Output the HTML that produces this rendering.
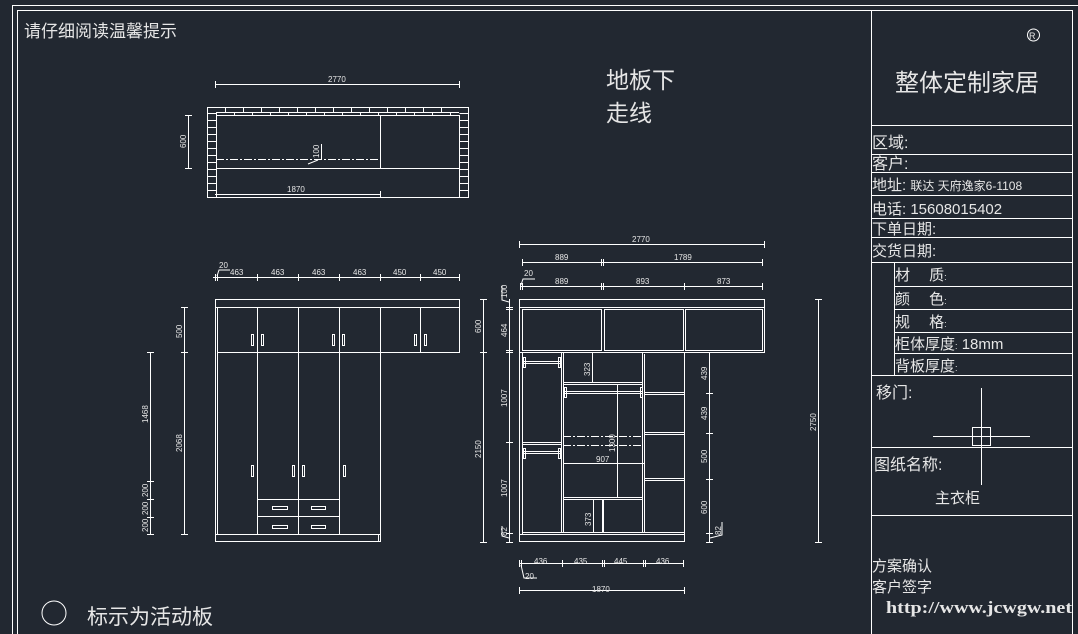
<!DOCTYPE html>
<html><head><meta charset="utf-8"><style>
html,body{margin:0;padding:0;background:#222831;}
svg{display:block}
text{font-family:"Liberation Sans","Noto Sans CJK SC",sans-serif;fill:#e6e6e6}
.d{font-size:8px;font-family:"Liberation Mono",monospace}
</style></head><body>
<svg width="1078" height="634" viewBox="0 0 1078 634" xmlns="http://www.w3.org/2000/svg">
<defs>
<pattern id="bh" x="207" y="113" width="10" height="7" patternUnits="userSpaceOnUse"><line x1="0" y1="0.5" x2="10" y2="0.5" stroke="#fff" stroke-width="1"/></pattern>
<pattern id="bt" x="207" y="107" width="18" height="8" patternUnits="userSpaceOnUse"><line x1="0.5" y1="0" x2="0.5" y2="5" stroke="#fff"/><line x1="9.5" y1="5" x2="9.5" y2="8" stroke="#fff"/></pattern>
</defs>
<rect width="1078" height="634" fill="#222831"/>
<g fill="none" stroke="#fff" stroke-width="1">
<rect x="12.5" y="5.5" width="1070" height="640"/>
<rect x="17.5" y="10.5" width="1055" height="640"/>
<line x1="871.5" y1="10" x2="871.5" y2="634"/>
<line x1="871" y1="125.5" x2="1073" y2="125.5"/>
<line x1="871" y1="154.5" x2="1073" y2="154.5"/>
<line x1="871" y1="172.5" x2="1073" y2="172.5"/>
<line x1="871" y1="195.5" x2="1073" y2="195.5"/>
<line x1="871" y1="218.5" x2="1073" y2="218.5"/>
<line x1="871" y1="237.5" x2="1073" y2="237.5"/>
<line x1="871" y1="262.5" x2="1073" y2="262.5"/>
<line x1="894.5" y1="262" x2="894.5" y2="375"/>
<line x1="894" y1="286.5" x2="1073" y2="286.5"/>
<line x1="894" y1="309.5" x2="1073" y2="309.5"/>
<line x1="894" y1="332.5" x2="1073" y2="332.5"/>
<line x1="894" y1="353.5" x2="1073" y2="353.5"/>
<line x1="871" y1="375.5" x2="1073" y2="375.5"/>
<line x1="871" y1="447.5" x2="1073" y2="447.5"/>
<line x1="871" y1="515.5" x2="1073" y2="515.5"/>
<line x1="981.5" y1="388" x2="981.5" y2="485"/>
<line x1="933" y1="436.5" x2="1030" y2="436.5"/>
<rect x="972.5" y="427.5" width="18" height="18"/>
<circle cx="1033.5" cy="35" r="6"/>

<rect x="207.5" y="107.5" width="261" height="90"/>
<rect x="216.5" y="115.5" width="243" height="53"/>
<line x1="216" y1="112.5" x2="459" y2="112.5"/>
<line x1="216.5" y1="168" x2="216.5" y2="198"/>
<line x1="459.5" y1="168" x2="459.5" y2="198"/>
<line x1="380.5" y1="115" x2="380.5" y2="168"/>
<line x1="216" y1="159.5" x2="380" y2="159.5" stroke-dasharray="8,2,2,2"/>
<line x1="321.5" y1="144" x2="321.5" y2="160"/>
<line x1="308" y1="164" x2="318" y2="160"/>
<line x1="215.5" y1="84.5" x2="460" y2="84.5"/>
<line x1="215.5" y1="81" x2="215.5" y2="88"/><line x1="459.5" y1="81" x2="459.5" y2="88"/>
<line x1="188.5" y1="115" x2="188.5" y2="168"/>
<line x1="185" y1="115.5" x2="192" y2="115.5"/><line x1="185" y1="168.5" x2="192" y2="168.5"/>
<line x1="215" y1="194.5" x2="380" y2="194.5"/>
<line x1="380.5" y1="191" x2="380.5" y2="198"/>
</g>
<rect x="207.5" y="113" width="9" height="85" fill="url(#bh)"/>
<rect x="459.5" y="113" width="9" height="85" fill="url(#bh)"/>
<rect x="216" y="107" width="243" height="8" fill="url(#bt)"/>

<g fill="none" stroke="#fff" stroke-width="1">
<rect x="215.5" y="299.5" width="244" height="8"/>
<rect x="217.5" y="307.5" width="242" height="45"/>
<line x1="257.5" y1="307" x2="257.5" y2="534"/>
<line x1="298.5" y1="307" x2="298.5" y2="534"/>
<line x1="339.5" y1="307" x2="339.5" y2="534"/>
<line x1="380.5" y1="307" x2="380.5" y2="541"/>
<line x1="420.5" y1="307" x2="420.5" y2="352"/>
<line x1="215.5" y1="307" x2="215.5" y2="541"/>
<line x1="217.5" y1="352" x2="217.5" y2="534"/>
<rect x="215.5" y="534.5" width="165" height="7"/>
<line x1="378.5" y1="534" x2="378.5" y2="541"/>
<line x1="257" y1="499.5" x2="339" y2="499.5"/>
<line x1="257" y1="516.5" x2="339" y2="516.5"/>
<rect x="251.5" y="334.5" width="2" height="11"/><rect x="261.5" y="334.5" width="2" height="11"/>
<rect x="332.5" y="334.5" width="2" height="11"/><rect x="342.5" y="334.5" width="2" height="11"/>
<rect x="414.5" y="334.5" width="2" height="11"/><rect x="424.5" y="334.5" width="2" height="11"/>
<rect x="251.5" y="465.5" width="2" height="11"/><rect x="292.5" y="465.5" width="2" height="11"/>
<rect x="302.5" y="465.5" width="2" height="11"/><rect x="343.5" y="465.5" width="2" height="11"/>
<rect x="272.5" y="506.5" width="15" height="3"/><rect x="311.5" y="506.5" width="14" height="3"/>
<rect x="272.5" y="525.5" width="15" height="3"/><rect x="311.5" y="525.5" width="14" height="3"/>
<line x1="213" y1="277.5" x2="460" y2="277.5"/>
<line x1="215.5" y1="274" x2="215.5" y2="281"/><line x1="217.5" y1="274" x2="217.5" y2="281"/><line x1="257.5" y1="274" x2="257.5" y2="281"/><line x1="298.5" y1="274" x2="298.5" y2="281"/><line x1="339.5" y1="274" x2="339.5" y2="281"/><line x1="380.5" y1="274" x2="380.5" y2="281"/><line x1="420.5" y1="274" x2="420.5" y2="281"/><line x1="459.5" y1="274" x2="459.5" y2="281"/>
<polyline points="217,276 219,270 230,270"/>
<line x1="184.5" y1="307" x2="184.5" y2="534"/>
<line x1="181" y1="307.5" x2="188" y2="307.5"/><line x1="181" y1="352.5" x2="188" y2="352.5"/><line x1="181" y1="534.5" x2="188" y2="534.5"/>
<line x1="150.5" y1="352" x2="150.5" y2="534"/>
<line x1="147" y1="352.5" x2="154" y2="352.5"/><line x1="147" y1="481.5" x2="154" y2="481.5"/><line x1="147" y1="499.5" x2="154" y2="499.5"/><line x1="147" y1="517.5" x2="154" y2="517.5"/><line x1="147" y1="534.5" x2="154" y2="534.5"/>

<rect x="519.5" y="299.5" width="245" height="8"/>
<rect x="519.5" y="307.5" width="245" height="45"/>
<rect x="522.5" y="309.5" width="79" height="41"/>
<rect x="604.5" y="309.5" width="79" height="41"/>
<rect x="685.5" y="309.5" width="77" height="41"/>
<rect x="519.5" y="352.5" width="165" height="189"/>
<line x1="522.5" y1="352" x2="522.5" y2="534"/>
<line x1="519" y1="534.5" x2="684" y2="534.5"/><line x1="522" y1="532.5" x2="684" y2="532.5"/>
<line x1="561.5" y1="352" x2="561.5" y2="533"/><line x1="563.5" y1="352" x2="563.5" y2="533"/>
<line x1="642.5" y1="352" x2="642.5" y2="533"/><line x1="644.5" y1="354" x2="644.5" y2="533"/>
<line x1="522" y1="361.5" x2="561" y2="361.5"/><line x1="522" y1="363.5" x2="561" y2="363.5"/>
<rect x="523.5" y="357.5" width="2" height="10"/><rect x="558.5" y="357.5" width="2" height="10"/>
<line x1="522" y1="442.5" x2="561" y2="442.5"/><line x1="522" y1="444.5" x2="561" y2="444.5"/>
<line x1="522" y1="451.5" x2="561" y2="451.5"/><line x1="522" y1="453.5" x2="561" y2="453.5"/>
<rect x="523.5" y="448.5" width="2" height="10"/><rect x="558.5" y="448.5" width="2" height="10"/>
<line x1="592.5" y1="353" x2="592.5" y2="383"/>
<line x1="563" y1="382.5" x2="642" y2="382.5"/><line x1="563" y1="384.5" x2="642" y2="384.5"/>
<line x1="563" y1="391.5" x2="642" y2="391.5"/><line x1="563" y1="393.5" x2="642" y2="393.5"/>
<rect x="564.5" y="387.5" width="2" height="10"/><rect x="640.5" y="387.5" width="2" height="10"/>
<line x1="617.5" y1="384" x2="617.5" y2="498"/>
<line x1="563" y1="436.5" x2="642" y2="436.5" stroke-dasharray="8,2,2,2"/>
<line x1="563" y1="445.5" x2="642" y2="445.5" stroke-dasharray="8,2,2,2"/>
<line x1="563" y1="463.5" x2="644" y2="463.5"/>
<line x1="563" y1="497.5" x2="642" y2="497.5"/><line x1="563" y1="499.5" x2="642" y2="499.5"/>
<line x1="593.5" y1="499" x2="593.5" y2="533"/>
<line x1="602.5" y1="499" x2="602.5" y2="533"/><line x1="603.5" y1="499" x2="603.5" y2="533"/>
<line x1="644" y1="392.5" x2="684" y2="392.5"/><line x1="644" y1="394.5" x2="684" y2="394.5"/>
<line x1="644" y1="432.5" x2="684" y2="432.5"/><line x1="644" y1="434.5" x2="684" y2="434.5"/>
<line x1="644" y1="478.5" x2="684" y2="478.5"/><line x1="644" y1="480.5" x2="684" y2="480.5"/>
<line x1="519" y1="244.5" x2="764" y2="244.5"/>
<line x1="519.5" y1="241" x2="519.5" y2="248"/><line x1="764.5" y1="241" x2="764.5" y2="248"/>
<line x1="522" y1="262.5" x2="763" y2="262.5"/>
<line x1="522.5" y1="259" x2="522.5" y2="266"/><line x1="601.5" y1="259" x2="601.5" y2="266"/><line x1="603.5" y1="259" x2="603.5" y2="266"/><line x1="762.5" y1="259" x2="762.5" y2="266"/>
<line x1="520" y1="286.5" x2="763" y2="286.5"/>
<line x1="520.5" y1="283" x2="520.5" y2="290"/><line x1="522.5" y1="283" x2="522.5" y2="290"/><line x1="601.5" y1="283" x2="601.5" y2="290"/><line x1="603.5" y1="283" x2="603.5" y2="290"/><line x1="684.5" y1="283" x2="684.5" y2="290"/><line x1="762.5" y1="283" x2="762.5" y2="290"/>
<polyline points="521,285 523,279 535,279"/>
<line x1="483.5" y1="299" x2="483.5" y2="542"/>
<line x1="480" y1="299.5" x2="487" y2="299.5"/><line x1="480" y1="352.5" x2="487" y2="352.5"/><line x1="480" y1="542.5" x2="487" y2="542.5"/>
<line x1="509.5" y1="299" x2="509.5" y2="542"/>
<line x1="506" y1="307.5" x2="513" y2="307.5"/><line x1="506" y1="309.5" x2="513" y2="309.5"/><line x1="506" y1="350.5" x2="513" y2="350.5"/><line x1="506" y1="352.5" x2="513" y2="352.5"/><line x1="506" y1="442.5" x2="513" y2="442.5"/><line x1="506" y1="533.5" x2="513" y2="533.5"/><line x1="506" y1="542.5" x2="513" y2="542.5"/>
<polyline points="502,286 502,300 509,302"/>
<polyline points="502,526 502,536 509,538"/>
<line x1="709.5" y1="352" x2="709.5" y2="542"/>
<line x1="706" y1="352.5" x2="713" y2="352.5"/><line x1="706" y1="393.5" x2="713" y2="393.5"/><line x1="706" y1="433.5" x2="713" y2="433.5"/><line x1="706" y1="479.5" x2="713" y2="479.5"/><line x1="706" y1="533.5" x2="713" y2="533.5"/><line x1="706" y1="542.5" x2="713" y2="542.5"/>
<polyline points="710,538 722,535 722,522"/>
<line x1="818.5" y1="299" x2="818.5" y2="542"/>
<line x1="815" y1="299.5" x2="822" y2="299.5"/><line x1="815" y1="542.5" x2="822" y2="542.5"/>
<line x1="519" y1="563.5" x2="684" y2="563.5"/>
<line x1="519.5" y1="560" x2="519.5" y2="567"/><line x1="521.5" y1="560" x2="521.5" y2="567"/><line x1="562.5" y1="560" x2="562.5" y2="567"/><line x1="602.5" y1="560" x2="602.5" y2="567"/><line x1="604.5" y1="560" x2="604.5" y2="567"/><line x1="643.5" y1="560" x2="643.5" y2="567"/><line x1="645.5" y1="560" x2="645.5" y2="567"/><line x1="683.5" y1="560" x2="683.5" y2="567"/>
<polyline points="521,565 524,578 537,578"/>
<line x1="519" y1="590.5" x2="684" y2="590.5"/>
<line x1="519.5" y1="587" x2="519.5" y2="594"/><line x1="684.5" y1="587" x2="684.5" y2="594"/>
<circle cx="54" cy="613" r="12"/>
</g>

<g class="d">
<text x="328" y="82">2770</text>
<text x="287" y="192">1870</text>
<text transform="translate(186,148) rotate(-90)">600</text>
<text transform="translate(319,158) rotate(-90)">100</text>
<text x="219" y="268">20</text>
<text x="230" y="275">463</text><text x="271" y="275">463</text><text x="312" y="275">463</text><text x="353" y="275">463</text><text x="393" y="275">450</text><text x="433" y="275">450</text>
<text transform="translate(182,338) rotate(-90)">500</text>
<text transform="translate(182,452) rotate(-90)">2068</text>
<text transform="translate(148,423) rotate(-90)">1468</text>
<text transform="translate(148,497) rotate(-90)">200</text>
<text transform="translate(148,515) rotate(-90)">200</text>
<text transform="translate(148,532) rotate(-90)">200</text>
<text x="632" y="242">2770</text>
<text x="555" y="260">889</text><text x="674" y="260">1789</text>
<text x="524" y="276">20</text>
<text x="555" y="284">889</text><text x="636" y="284">893</text><text x="717" y="284">873</text>
<text transform="translate(481,333) rotate(-90)">600</text>
<text transform="translate(481,458) rotate(-90)">2150</text>
<text transform="translate(507,298) rotate(-90)">100</text>
<text transform="translate(507,337) rotate(-90)">464</text>
<text transform="translate(507,407) rotate(-90)">1007</text>
<text transform="translate(507,497) rotate(-90)">1007</text>
<text transform="translate(507,536) rotate(-90)">82</text>
<text transform="translate(590,376) rotate(-90)">323</text>
<text transform="translate(615,452) rotate(-90)">1300</text>
<text x="596" y="462">907</text>
<text transform="translate(591,526) rotate(-90)">373</text>
<text transform="translate(707,380) rotate(-90)">439</text>
<text transform="translate(707,420) rotate(-90)">439</text>
<text transform="translate(707,463) rotate(-90)">500</text>
<text transform="translate(707,514) rotate(-90)">600</text>
<text transform="translate(721,535) rotate(-90)">82</text>
<text transform="translate(816,431) rotate(-90)">2750</text>
<text x="534" y="564">436</text><text x="574" y="564">435</text><text x="614" y="564">445</text><text x="656" y="564">436</text>
<text x="525" y="579">20</text>
<text x="592" y="592">1870</text>
</g>

<text x="24" y="37" font-size="17">请仔细阅读温馨提示</text>
<text x="606" y="88" font-size="23">地板下</text>
<text x="606" y="121" font-size="23">走线</text>
<text x="87" y="624" font-size="21">标示为活动板</text>
<text x="1029" y="39" font-size="9">R</text>
<text x="895" y="91" font-size="24">整体定制家居</text>
<text x="872" y="148" font-size="16">区域:</text>
<text x="872" y="169" font-size="16">客户:</text>
<text x="872" y="190" font-size="15">地址: <tspan font-size="12">联达 天府逸家6-1108</tspan></text>
<text x="872" y="214" font-size="15">电话: 15608015402</text>
<text x="872" y="234" font-size="15">下单日期:</text>
<text x="872" y="256" font-size="15">交货日期:</text>
<text x="895" y="280" font-size="15">材　 质<tspan font-size="9">:</tspan></text>
<text x="895" y="304" font-size="15">颜　 色<tspan font-size="9">:</tspan></text>
<text x="895" y="327" font-size="15">规　 格<tspan font-size="9">:</tspan></text>
<text x="895" y="349" font-size="15">柜体厚度<tspan font-size="9">:</tspan>  18mm</text>
<text x="895" y="371" font-size="15">背板厚度<tspan font-size="9">:</tspan></text>
<text x="876" y="398" font-size="16">移门:</text>
<text x="874" y="470" font-size="16">图纸名称:</text>
<text x="935" y="503" font-size="15">主衣柜</text>
<text x="872" y="571" font-size="15">方案确认</text>
<text x="872" y="592" font-size="15">客户签字</text>
<text x="886" y="613" font-size="17" font-weight="bold" textLength="186" lengthAdjust="spacingAndGlyphs" style="font-family:'Liberation Serif',serif">http://www.jcwgw.net</text>
</svg>
</body></html>
